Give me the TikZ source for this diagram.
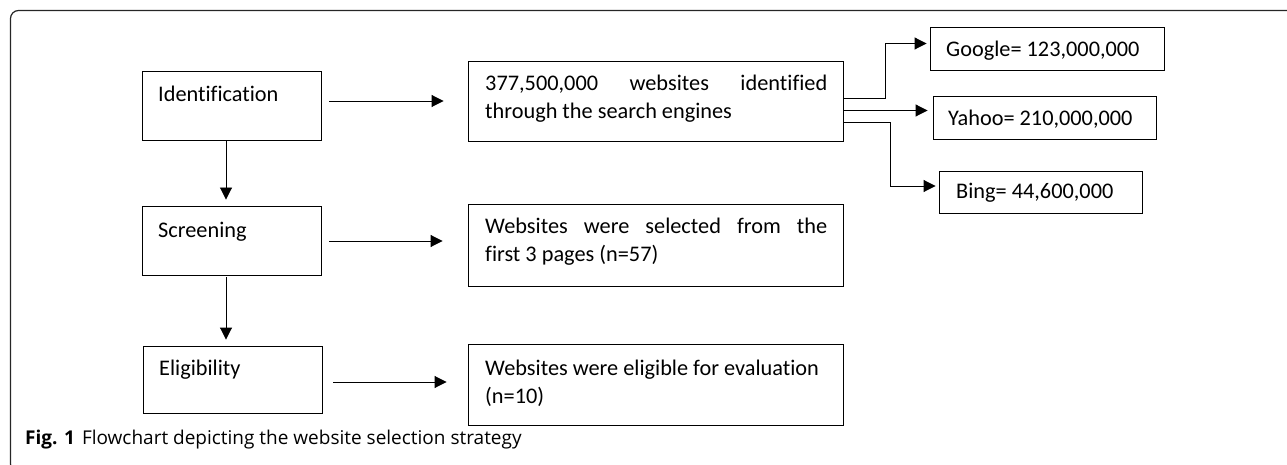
\documentclass[tikz,border=0pt]{standalone}
\usepackage{fontspec}
\setmainfont{Carlito}[Ligatures=NoCommon]
\newfontfamily\capfont{Open Sans}[Ligatures=NoCommon]
\usetikzlibrary{arrows.meta}
\begin{document}
\begin{tikzpicture}[x=1pt,y=-1pt,
  flowbox/.style={draw, line width=0.9pt, inner sep=0pt},
  arr/.style={draw, line width=0.9pt, -{Triangle[length=12pt,width=12pt]}},
  txt/.style={anchor=base west, inner sep=0pt, font=\fontsize{22.3}{28}\selectfont},
  captxt/.style={anchor=base west, inner sep=0pt, font=\capfont\fontsize{19}{22}\selectfont}]
\useasboundingbox (0,0) rectangle (1287,465);
% frame
\draw[line width=1.2pt, color=black!85, rounded corners=8pt] (1300,10.5) -- (10.5,10.5) -- (10.5,472) -- (1300,472);
% left column boxes
\node[flowbox, minimum width=179pt, minimum height=69pt] (id) at (231.5,105.5) {};
\node[flowbox, minimum width=179pt, minimum height=69pt] (sc) at (231.5,240.5) {};
\node[flowbox, minimum width=179pt, minimum height=67pt] (el) at (232.5,379.5) {};
% middle boxes
\node[flowbox, minimum width=375pt, minimum height=80pt] (m1) at (655.5,101) {};
\node[flowbox, minimum width=375pt, minimum height=82pt] (m2) at (655.5,245) {};
\node[flowbox, minimum width=375pt, minimum height=81pt] (m3) at (655.5,384.5) {};
% right boxes
\node[flowbox, minimum width=234pt, minimum height=43pt] (g) at (1047,48.5) {};
\node[flowbox, minimum width=223pt, minimum height=43pt] (yh) at (1044.5,117.5) {};
\node[flowbox, minimum width=203pt, minimum height=42pt] (b) at (1040.5,192) {};
% texts
\node[txt] (tid) at (158,102) {Identification};
\node[txt] (tsc) at (158,237.5) {Screening};
\node[txt] (tel) at (159,375.5) {Eligibility};
\node[txt] (tm1) at (485,90.5) {\begin{tabular}[t]{@{}l@{}}\makebox[342pt][s]{377,500,000 websites identified}\\ through the search engines\end{tabular}};
\node[txt] (tm2) at (485,233.5) {\begin{tabular}[t]{@{}l@{}}\makebox[342pt][s]{Websites were selected from the}\\ first 3 pages (n=57)\end{tabular}};
\node[txt] (tm3) at (485,375.5) {\begin{tabular}[t]{@{}l@{}}Websites were eligible for evaluation\\ (n=10)\end{tabular}};
\node[txt] (tg) at (946,56.5) {Google= 123,000,000};
\node[txt] (ty) at (948,125.5) {Yahoo= 210,000,000};
\node[txt] (tb) at (956,198.5) {Bing= 44,600,000};
% caption
\node[captxt] (caption) at (25,444) {{\bfseries Fig. 1}\hspace{7pt}Flowchart depicting the website selection strategy};
% connectors
\draw[arr] ([shift={(8,-4.5)}]id.east) -- ([shift={(-24,0)}]m1.west);
\draw[arr] ([shift={(8,0.5)}]sc.east) -- ([shift={(-25,-4)}]m2.west);
\draw[arr] ([shift={(11,2.5)}]el.east) -- ([shift={(-21,-2.5)}]m3.west);
\draw[arr] ([shift={(-5.5,0)}]id.south) -- ([shift={(-5.5,-6)}]sc.north);
\draw[arr] ([shift={(-5.5,2)}]sc.south) -- ([shift={(-6.5,-6)}]el.north);
\draw[arr] ([shift={(0,-3)}]m1.east) -- ++(42,0) |- ([shift={(-3,-5)}]g.west);
\draw[arr] ([shift={(0,9.5)}]m1.east) -- ([shift={(-5,-7)}]yh.west);
\draw[arr] ([shift={(0,21)}]m1.east) -- ++(47,0) |- ([shift={(-3,-6)}]b.west);
\end{tikzpicture}
\end{document}
